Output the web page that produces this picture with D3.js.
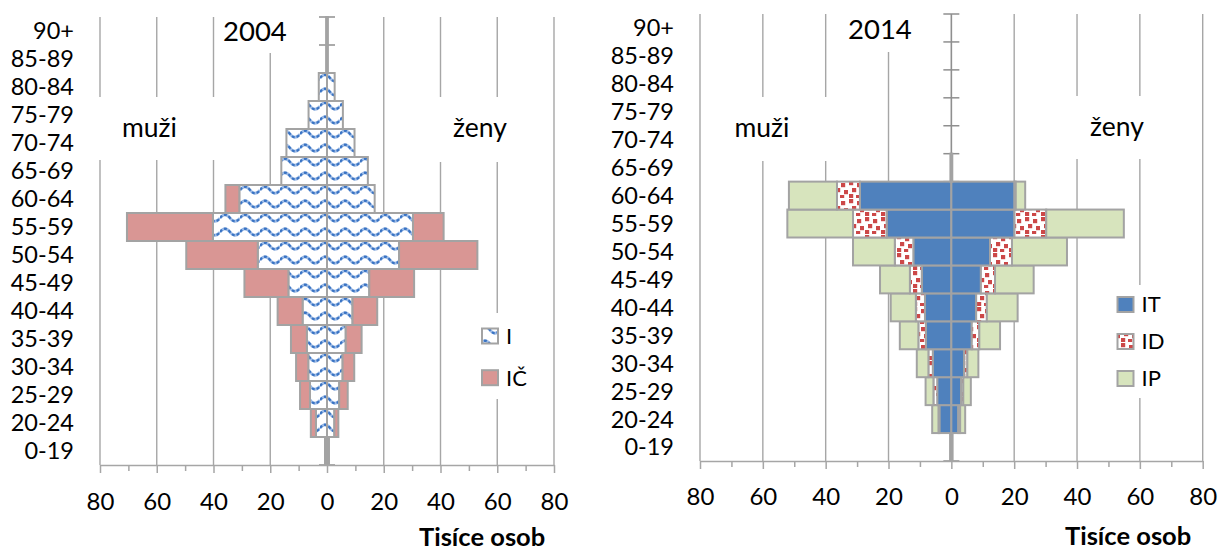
<!DOCTYPE html>
<html><head><meta charset="utf-8">
<script src="https://cdn.jsdelivr.net/npm/d3@7"></script>
<style>
body{margin:0;background:#fff}
svg{display:block}
text{font-family:Lato,"Open Sans",sans-serif;fill:#000}
</style>
</head><body>
<svg id="c" width="1220" height="552"></svg>
<script>
// ---------- DATA ----------
const ages = ["0-19","20-24","25-29","30-34","35-39","40-44","45-49","50-54","55-59","60-64","65-69","70-74","75-79","80-84","85-89","90+"];
const xTickValues = [-80,-60,-40,-20,0,20,40,60,80];
const xMinorValues = [-70,-50,-30,-10,10,30,50,70];

// 2004 (thousands of persons), bottom (0-19) to top (90+)
const series2004 = ["I","IČ"];
const men2004_I   = [0.7,3.9,6.0,6.6,7.1,8.6,13.6,24.4,40.2,30.9,16.1,14.3,6.5,2.9,0.3,0.3];
const men2004_IC  = [0,1.8,3.5,4.3,5.6,8.8,15.5,25.2,30.3,4.9,0,0,0,0,0,0];
const women2004_I = [0.7,2.6,4.3,5.5,6.6,9.0,14.9,25.4,30.3,16.8,14.4,9.7,5.6,2.7,0.3,0.3];
const women2004_IC= [0,1.4,3.0,4.1,5.6,8.7,15.8,27.6,10.8,0,0,0,0,0,0,0];

// 2014
const series2014 = ["IT","ID","IP"];
const men2014_IT   = [0.4,3.8,4.5,5.9,8.1,8.4,9.4,12.1,20.6,29.1,0.3,0,0,0,0,0];
const men2014_ID   = [0,0.3,1.2,1.4,2.4,2.9,3.8,5.9,10.7,7.3,0,0,0,0,0,0];
const men2014_IP   = [0,2.0,2.5,3.7,5.9,8.0,9.5,13.3,20.9,15.3,0,0,0,0,0,0];
const women2014_IT = [0.4,2.2,3.1,4.1,6.5,7.9,9.4,12.3,20.1,20.1,0.3,0,0,0,0,0];
const women2014_ID = [0,0.6,0.7,1.0,2.4,3.4,4.5,7.0,10.1,0.4,0,0,0,0,0,0];
const women2014_IP = [0,1.6,2.4,3.5,6.6,9.8,12.3,17.5,24.7,3.0,0,0,0,0,0,0];

const titleMen = "muži", titleWomen = "ženy", axisTitle = "Tisíce osob";

// ---------- DRAW ----------
const svg = d3.select("#c");
const defs = svg.append("defs");
const GRID = "#a6a6a6", BORDER = "#a3a3a3";

// wave pattern (I)
const wave = defs.append("pattern").attr("id","wave").attr("patternUnits","userSpaceOnUse")
  .attr("width",20).attr("height",14).attr("y",1);
wave.append("rect").attr("width",20).attr("height",14).attr("fill","#fff");
const wd = "M0,7 Q5,0.5 10,7 T20,7";
wave.append("path").attr("d",wd).attr("fill","none")
  .attr("stroke","#9dbbe6").attr("stroke-width",2.8);
wave.append("path").attr("d",wd).attr("fill","none")
  .attr("stroke","#3a74c4").attr("stroke-width",2.3).attr("stroke-dasharray","3 2");

// confetti pattern (ID)
const conf = defs.append("pattern").attr("id","conf").attr("patternUnits","userSpaceOnUse")
  .attr("width",16).attr("height",18);
conf.append("rect").attr("width",16).attr("height",18).attr("fill","#fff");
[[1,1],[9,3],[4,8],[12,10],[1,14],[8,15]].forEach(p=>{
  conf.append("rect").attr("x",p[0]).attr("y",p[1]).attr("width",4.2).attr("height",4.2).attr("fill","#cc4848");
});

const fills = {"I":"url(#wave)","IČ":"#d99694","IT":"#4f81bd","ID":"url(#conf)","IP":"#d7e4bd"};

function pyramid(o){
  const g = svg.append("g");
  const x = d3.scaleLinear().domain([-80,80]).range([o.x0,o.x1]);
  const y = d3.scaleBand().domain(ages).range([o.yBottom,o.yTop]).padding(0);

  // gridlines
  g.selectAll("line.grid").data(xTickValues.filter(v=>v!==0)).join("line")
    .attr("x1",d=>x(d)).attr("x2",d=>x(d)).attr("y1",o.yTop).attr("y2",o.yBottom)
    .attr("stroke",GRID).attr("stroke-width",1.4);

  // white text boxes interrupting the gridlines
  o.boxes.forEach(b=>g.append("rect").attr("x",b[0]).attr("y",b[1]).attr("width",b[2]).attr("height",b[3]).attr("fill","#fff"));

  // vertical axis at 0 with cross ticks on category boundaries
  const xc = x(0);
  g.append("line").attr("x1",xc).attr("x2",xc).attr("y1",o.yTop).attr("y2",o.yBottom)
    .attr("stroke","#8f8f8f").attr("stroke-width",o.axisW);
  const bounds = ages.map(a=>y(a)).concat([o.yBottom]);
  g.selectAll("line.yt").data(bounds).join("line")
    .attr("x1",xc-8).attr("x2",xc+8).attr("y1",d=>d).attr("y2",d=>d)
    .attr("stroke","#8f8f8f").attr("stroke-width",1.5);

  // stacked bars
  const recs = [];
  [["m",-1,o.men],["w",1,o.women]].forEach(([side,sgn,arrs])=>{
    ages.forEach((a,i)=>{
      let c = 0;
      arrs.forEach((arr,k)=>{
        const v = arr[i];
        if(v>0){ recs.push({age:a,s:o.series[k],v0:sgn*c,v1:sgn*(c+v)}); c+=v; }
      });
    });
  });
  g.selectAll("rect.bar").data(recs).join("rect")
    .attr("x",d=>Math.min(x(d.v0),x(d.v1)))
    .attr("width",d=>Math.abs(x(d.v1)-x(d.v0)))
    .attr("y",d=>y(d.age)).attr("height",y.bandwidth())
    .attr("fill",d=>fills[d.s]).attr("stroke",BORDER).attr("stroke-width",2);

  // bottom axis
  const ax = g.append("g").attr("transform",`translate(0,${o.yBottom})`)
    .call(d3.axisBottom(x).tickValues(xTickValues).tickFormat(d=>Math.abs(d)).tickSize(8).tickSizeOuter(0).tickPadding(o.tickPad));
  ax.select(".domain").attr("stroke",GRID).attr("stroke-width",1.5);
  ax.selectAll(".tick line").attr("stroke",GRID).attr("stroke-width",1.5);
  ax.selectAll(".tick text").style("font-family","Lato").style("font-size","24px").attr("fill","#000");
  const axm = g.append("g").attr("transform",`translate(0,${o.yBottom})`)
    .call(d3.axisBottom(x).tickValues(xMinorValues).tickFormat("").tickSize(6).tickSizeOuter(0));
  axm.select(".domain").remove();
  axm.selectAll(".tick line").attr("stroke",GRID).attr("stroke-width",1.5);

  // age labels
  g.selectAll("text.age").data(ages).join("text")
    .attr("x",o.labelX).attr("y",d=>y(d)+y.bandwidth()/2).attr("dy","0.36em")
    .attr("text-anchor","end").style("font-size","23.5px").text(d=>d);

  // texts
  g.append("text").attr("x",o.title[0]).attr("y",o.title[1]).style("font-size","27.5px").text(o.titleText);
  g.append("text").attr("x",o.menPos[0]).attr("y",o.menPos[1]).style("font-size","26.5px").text(titleMen);
  g.append("text").attr("x",o.womenPos[0]).attr("y",o.womenPos[1]).style("font-size","26.5px").text(titleWomen);
  g.append("text").attr("x",o.axisTitle[0]).attr("y",o.axisTitle[1]).style("font-size","25.5px")
    .style("font-weight","bold").text(axisTitle);

  // legend
  const lg = g.append("g");
  o.series.forEach((s,k)=>{
    const yy = o.legend[1] + k*o.legend[2];
    lg.append("rect").attr("x",o.legend[0]).attr("y",yy).attr("width",16).attr("height",15)
      .attr("fill",fills[s]).attr("stroke",BORDER).attr("stroke-width",2);
    lg.append("text").attr("x",o.legend[0]+24).attr("y",yy+7.5).attr("dy","0.36em")
      .style("font-size","22px").text(s);
  });
}

pyramid({
  x0:100, x1:554, yTop:17, yBottom:465, axisW:2.5, tickPad:20, labelX:74,
  series:series2004, men:[men2004_I,men2004_IC], women:[women2004_I,women2004_IC],
  boxes:[[225,8,70,45],[88,97,150,63],[420,97,98,65],[470,313,62,86]],
  titleText:"2004", title:[223,41], menPos:[122,137], womenPos:[453,136.5],
  axisTitle:[419,546], legend:[482,328.5,41.7]
});
pyramid({
  x0:700, x1:1202.7, yTop:14, yBottom:461, axisW:1.6, tickPad:19, labelX:674,
  series:series2014, men:[men2014_IT,men2014_ID,men2014_IP], women:[women2014_IT,women2014_ID,women2014_IP],
  boxes:[[838,6,88,46],[712,97,140,64],[1060,96,100,63],[1108,285,80,113]],
  titleText:"2014", title:[848,39.3], menPos:[734.5,137.3], womenPos:[1090,135.5],
  axisTitle:[1065,545], legend:[1117.5,297,37]
});
</script>
</body></html>
